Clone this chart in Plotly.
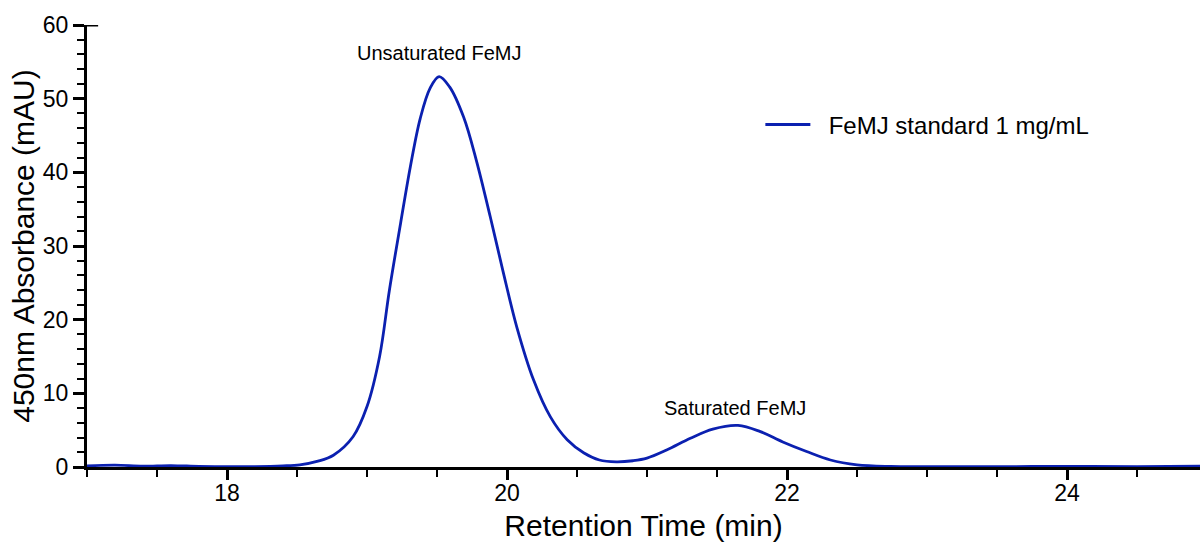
import plotly.graph_objects as go

# Chromatogram trace (retention time in min, absorbance at 450 nm in mAU)
retention_time = [
    17.0, 17.2, 17.4, 17.6, 17.8, 18.0, 18.2, 18.4, 18.52, 18.65, 18.76, 18.9,
    19.0, 19.09, 19.16, 19.24, 19.31, 19.38, 19.45, 19.515, 19.59, 19.69, 19.78,
    19.88, 19.97, 20.07, 20.19, 20.31, 20.43, 20.55, 20.66, 20.78, 20.9, 21.0,
    21.14, 21.31, 21.47, 21.65, 21.81, 21.97, 22.14, 22.31, 22.5, 22.74, 23.0,
    23.5, 24.0, 24.5, 24.95,
]
absorbance = [
    0.15, 0.25, 0.12, 0.2, 0.08, 0.05, 0.05, 0.15, 0.3, 0.8, 1.6, 4.1,
    8.2, 15.0, 24.0, 33.1, 40.8, 47.3, 51.4, 53.0, 51.6, 47.5, 41.7,
    34.0, 26.7, 19.0, 11.8, 6.8, 3.7, 1.9, 0.95, 0.7, 0.85, 1.2,
    2.3, 3.9, 5.15, 5.65, 4.8, 3.4, 2.1, 0.95, 0.3, 0.08, 0.05,
    0.05, 0.08, 0.05, 0.1,
]

series_name = "\u00a0\u00a0FeMJ standard 1 mg/mL"

# Peak labels
peak_labels = ["Unsaturated FeMJ", "Saturated FeMJ"]
peak_label_x = [19.52, 21.63]
peak_label_y = [56.2, 8.0]

FONT = "Liberation Sans, Arial, Helvetica, sans-serif"
LINE_COLOR = "#0b20b0"

fig = go.Figure()
fig.add_trace(go.Scatter(
    x=retention_time, y=absorbance, mode="lines", name=series_name,
    line=dict(color=LINE_COLOR, width=2.8, shape="spline", smoothing=1.0),
))

for text, lx, ly in zip(peak_labels, peak_label_x, peak_label_y):
    fig.add_annotation(x=lx, y=ly, text=text, showarrow=False,
                       font=dict(family=FONT, size=20, color="black"))

# Cap at the top of the y axis
fig.add_shape(type="line", xref="paper", yref="y", x0=-0.011, x1=0.01,
              y0=60, y1=60, line=dict(color="black", width=3))

fig.update_layout(
    width=1200, height=543,
    margin=dict(l=87, r=0, t=25, b=76),
    paper_bgcolor="white", plot_bgcolor="white",
    font=dict(family=FONT, color="black"),
    showlegend=True,
    legend=dict(x=0.605, y=0.774, xanchor="left", yanchor="middle",
                font=dict(family=FONT, size=24, color="black"),
                bgcolor="rgba(0,0,0,0)", itemwidth=45),
    xaxis=dict(
        range=[17, 24.95], showgrid=False, zeroline=False,
        showline=True, linecolor="black", linewidth=3,
        tick0=18, dtick=2, ticks="outside", ticklen=10, tickwidth=3,
        tickcolor="black", tickfont=dict(family=FONT, size=23),
        ticklabelstandoff=-7,
        minor=dict(dtick=0.5, tick0=17, ticks="outside", ticklen=7,
                   tickwidth=1.5, tickcolor="black"),
        title=dict(text="Retention Time (min)",
                   font=dict(family=FONT, size=30), standoff=11),
    ),
    yaxis=dict(
        range=[0, 60], showgrid=False, zeroline=False,
        showline=True, linecolor="black", linewidth=3,
        tick0=0, dtick=10, ticks="outside", ticklen=11, tickwidth=3,
        tickcolor="black", tickfont=dict(family=FONT, size=23),
        minor=dict(dtick=2, ticks="outside", ticklen=7,
                   tickwidth=2, tickcolor="black"),
        title=dict(text="450nm Absorbance (mAU)",
                   font=dict(family=FONT, size=30), standoff=0),
    ),
)

fig.write_html("out.html")
